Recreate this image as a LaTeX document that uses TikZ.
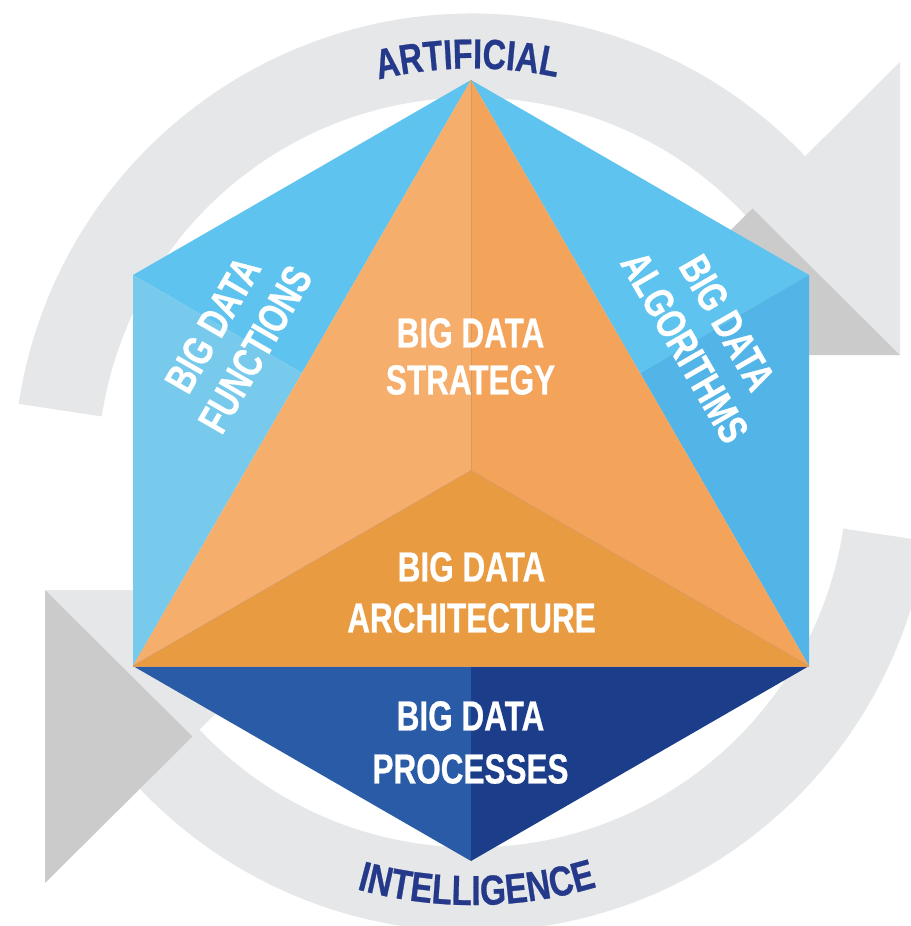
\documentclass[tikz,border=0pt]{standalone}
\usepackage{fontspec}
\newfontfamily\condfont[FakeStretch=0.75, BoldFeatures={FakeBold=0.6}]{Liberation Sans}
\newfontfamily\artfont[FakeStretch=0.77, BoldFeatures={FakeBold=0.6}]{Liberation Sans}
\newfontfamily\intfont[FakeStretch=0.79, BoldFeatures={FakeBold=0.6}]{Liberation Sans}
\usetikzlibrary{calc,decorations.text}
\definecolor{ringgray}{HTML}{E6E7E8}
\definecolor{darkgray}{HTML}{CBCBCB}
\definecolor{bluetop}{HTML}{5EC3EE}
\definecolor{bluelowl}{HTML}{78CAEC}
\definecolor{bluelowr}{HTML}{53B5E7}
\definecolor{orleft}{HTML}{F5AE6B}
\definecolor{orright}{HTML}{F3A35A}
\definecolor{orarch}{HTML}{E99B41}
\definecolor{navyl}{HTML}{2A5BA6}
\definecolor{navyr}{HTML}{1C3E8A}
\definecolor{tblue}{HTML}{24398A}
\definecolor{edgecol}{HTML}{D69A63}
\newcommand\lblfont{\condfont\bfseries\fontsize{42}{47}\selectfont}
\newcommand\artarcfont{\artfont\bfseries\fontsize{42}{42}\selectfont}
\newcommand\intarcfont{\intfont\bfseries\fontsize{42}{42}\selectfont}
\tikzset{
  lbl/.style={text=white, align=center, inner sep=0pt},
  edgeline/.style={draw=edgecol, line width=0.6pt}
}
\begin{document}
\begin{tikzpicture}[x=1pt,y=1pt]
\useasboundingbox (0,0) rectangle (910,-926);
\fill[white] (0,0) rectangle (910,-926);
\coordinate (O) at (472.5,-472.5);
% ring arcs
\fill[ringgray] ($(O)+(171.4:459pt)$) arc[start angle=171.4, end angle=40, radius=459pt]
  -- ($(O)+(40:375pt)$) arc[start angle=40, end angle=171.4, radius=375pt] -- cycle;
\fill[ringgray] ($(O)+(-8.6:459pt)$) arc[start angle=-8.6, end angle=-140, radius=459pt]
  -- ($(O)+(-140:375pt)$) arc[start angle=-140, end angle=-8.6, radius=375pt] -- cycle;
% arrowheads
\coordinate (urtop) at (900,-62);
\coordinate (urtip) at (900,-355);
\coordinate (urbase) at (605,-355);
\coordinate (urmid) at (752.5,-208.5);
\fill[ringgray] (urtop) -- (urtip) -- (urmid) -- cycle;
\fill[darkgray] (urbase) -- (urtip) -- (urmid) -- cycle;
\coordinate (lltip) at (45,-590);
\coordinate (llbase) at (340,-590);
\coordinate (llbot) at (45,-883);
\coordinate (llmid) at (192.5,-736.5);
\fill[ringgray] (lltip) -- (llbase) -- (llmid) -- cycle;
\fill[darkgray] (lltip) -- (llmid) -- (llbot) -- cycle;
% hexagon points
\coordinate (A) at (471,-80);
\coordinate (UL) at (133,-275);
\coordinate (UR) at (809,-275);
\coordinate (LL) at (133,-666);
\coordinate (LR) at (809,-666);
\coordinate (B) at (471,-861);
\coordinate (C) at (471,-470.5);
\coordinate (M) at (471,-666);
\coordinate (ML) at (302,-373);
\coordinate (MR) at (640,-373);
% faces
\fill[bluetop] (A) -- (UL) -- (ML) -- cycle;
\fill[bluelowl] (UL) -- (LL) -- (ML) -- cycle;
\fill[bluetop] (A) -- (UR) -- (MR) -- cycle;
\fill[bluelowr] (UR) -- (LR) -- (MR) -- cycle;
\fill[orleft] (A) -- (LL) -- (C) -- cycle;
\fill[orright] (A) -- (LR) -- (C) -- cycle;
\fill[orarch] (C) -- (LL) -- (LR) -- cycle;
\fill[navyl] (LL) -- (M) -- (B) -- cycle;
\fill[navyr] (M) -- (LR) -- (B) -- cycle;
\draw[edgeline] (A) -- (C);
\draw[edgeline] (C) -- (LL);
\draw[edgeline] (C) -- (LR);
\draw[edgeline] (LL) -- (LR);
% labels
\node[lbl, font=\lblfont] (strategy) at (470.5,-356.5) {BIG DATA\\STRATEGY};
\node[lbl, font=\condfont\bfseries\fontsize{42}{51}\selectfont] (architecture) at (471.5,-592.5) {BIG DATA\\ARCHITECTURE};
\node[lbl, font=\condfont\bfseries\fontsize{42}{53}\selectfont] (processes) at (470.5,-742.5) {BIG DATA\\PROCESSES};
\node[lbl, font=\condfont\bfseries\fontsize{42}{49}\selectfont, rotate=60] (functions) at (234,-337) {BIG DATA\\FUNCTIONS};
\node[lbl, font=\condfont\bfseries\fontsize{42}{49}\selectfont, rotate=-60] (algorithms) at (706,-335) {BIG DATA\\ALGORITHMS};
% curved words
\path[decorate, decoration={text along path, text align=center, text color=tblue,
  text={|\artarcfont|ARTIFICIAL}}]
  ($(O)+(150.7:404pt)$) arc[start angle=150.7, end angle=30.7, radius=404pt];
\path[decorate, decoration={text along path, text align=center, text color=tblue,
  text={|\intarcfont|INTELLIGENCE}}]
  ($(O)+(210.6:432.5pt)$) arc[start angle=210.6, end angle=330.6, radius=432.5pt];
\end{tikzpicture}
\end{document}
